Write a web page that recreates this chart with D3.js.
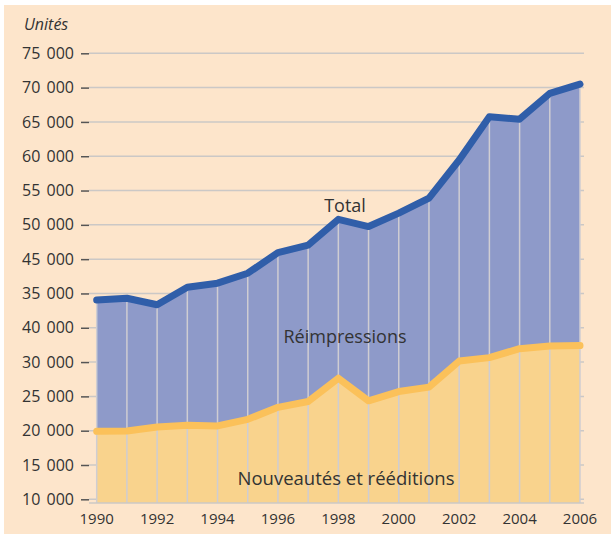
<!DOCTYPE html>
<html>
<head>
<meta charset="utf-8">
<script src="https://cdn.jsdelivr.net/npm/d3@7"></script>
<style>
  html, body { margin: 0; padding: 0; background: #fff; }
  svg { display: block; }
  text { font-family: "Open Sans", "Noto Sans", sans-serif; fill: #333; }
</style>
</head>
<body>
<svg id="chart"></svg>
<script>
// Data
var years = [1990, 1991, 1992, 1993, 1994, 1995, 1996, 1997, 1998, 1999, 2000, 2001, 2002, 2003, 2004, 2005, 2006];
var total = [39050, 39300, 38350, 40900, 41500, 42950, 45950, 47050, 50800, 49750, 51700, 53900, 59450, 65750, 65400, 69150, 70500];
var nouveautes = [19900, 19950, 20550, 20800, 20700, 21650, 23400, 24250, 27650, 24350, 25700, 26350, 30150, 30650, 31950, 32350, 32400];
var tickValues = [10000, 15000, 20000, 25000, 30000, 35000, 40000, 45000, 50000, 55000, 60000, 65000, 70000, 75000];
// labels as printed on the original (35 000 / 40 000 appear swapped there)
var tickLabels = ["10 000", "15 000", "20 000", "25 000", "30 000", "40 000", "35 000", "45 000", "50 000", "55 000", "60 000", "65 000", "70 000", "75 000"];
var yearLabels = [1990, 1992, 1994, 1996, 1998, 2000, 2002, 2004, 2006];

var W = 611, H = 534;
var plotLeft = 89, plotRight = 584, plotBottom = 503;

var svg = d3.select("#chart").attr("width", W).attr("height", H);

// Background panel
svg.append("rect")
    .attr("x", 4).attr("y", 5)
    .attr("width", W - 4).attr("height", H - 5)
    .attr("fill", "#fde5cb");

// Scales
var x = d3.scaleLinear().domain([1990, 2006]).range([96.7, 580]);
var y = d3.scaleLinear().domain([10000, 75000]).range([499.3, 53.3]);

// Horizontal gridlines (behind the areas)
svg.append("g")
    .selectAll("line")
    .data(tickValues)
    .enter().append("line")
    .attr("x1", plotLeft).attr("x2", plotRight)
    .attr("y1", d => y(d)).attr("y2", d => y(d))
    .attr("stroke", "#cbc8c6")
    .attr("stroke-width", 1.5);

// Left axis with dash ticks
var yAxis = d3.axisLeft(y)
    .tickValues(tickValues)
    .tickFormat((d, i) => tickLabels[i])
    .tickSize(8)
    .tickPadding(7);

var gy = svg.append("g")
    .attr("transform", "translate(" + plotLeft + ",0)")
    .call(yAxis);
gy.select(".domain").remove();
gy.selectAll(".tick line").attr("stroke", "#555").attr("stroke-width", 1.5);
gy.selectAll(".tick text")
    .attr("fill", "#333")
    .style("font-size", "16px")
    .style("word-spacing", "2px")
    .style("font-family", "'Open Sans', 'Noto Sans', sans-serif");

// Areas
var areaTotal = d3.area()
    .x((d, i) => x(years[i]))
    .y0(plotBottom)
    .y1(d => y(d));

svg.append("path")
    .datum(total)
    .attr("d", areaTotal)
    .attr("fill", "#8e9ac9");

svg.append("path")
    .datum(nouveautes)
    .attr("d", areaTotal)
    .attr("fill", "#f9d38d");

// Vertical year lines inside the areas
svg.append("g")
    .selectAll("line")
    .data(years)
    .enter().append("line")
    .attr("x1", d => x(d)).attr("x2", d => x(d))
    .attr("y1", plotBottom)
    .attr("y2", (d, i) => y(total[i]))
    .attr("stroke", "#cfcdd2")
    .attr("stroke-width", 1.5);

// Baseline
svg.append("line")
    .attr("x1", plotLeft).attr("x2", plotRight)
    .attr("y1", plotBottom).attr("y2", plotBottom)
    .attr("stroke", "#cbc8c6")
    .attr("stroke-width", 1.5);

// Lines
var line = d3.line()
    .x((d, i) => x(years[i]))
    .y(d => y(d));

svg.append("path")
    .datum(nouveautes)
    .attr("d", line)
    .attr("fill", "none")
    .attr("stroke", "#fbc15a")
    .attr("stroke-width", 7)
    .attr("stroke-linejoin", "round")
    .attr("stroke-linecap", "round");

svg.append("path")
    .datum(total)
    .attr("d", line)
    .attr("fill", "none")
    .attr("stroke", "#305ea9")
    .attr("stroke-width", 7)
    .attr("stroke-linejoin", "round")
    .attr("stroke-linecap", "round");

// X axis labels
svg.append("g")
    .selectAll("text")
    .data(yearLabels)
    .enter().append("text")
    .attr("x", d => x(d))
    .attr("y", 523.5)
    .attr("text-anchor", "middle")
    .style("font-size", "15px")
    .text(d => d);

// Unit label
svg.append("text")
    .attr("x", 24).attr("y", 30)
    .style("font-size", "16px")
    .style("font-style", "italic")
    .text("Unités");

// Series labels
svg.append("text")
    .attr("x", 345).attr("y", 212)
    .attr("text-anchor", "middle")
    .style("font-size", "18px")
    .text("Total");

svg.append("text")
    .attr("x", 345).attr("y", 343)
    .attr("text-anchor", "middle")
    .style("font-size", "18px")
    .text("Réimpressions");

svg.append("text")
    .attr("x", 346).attr("y", 485)
    .attr("text-anchor", "middle")
    .style("font-size", "18.5px")
    .text("Nouveautés et rééditions");
</script>
</body>
</html>
